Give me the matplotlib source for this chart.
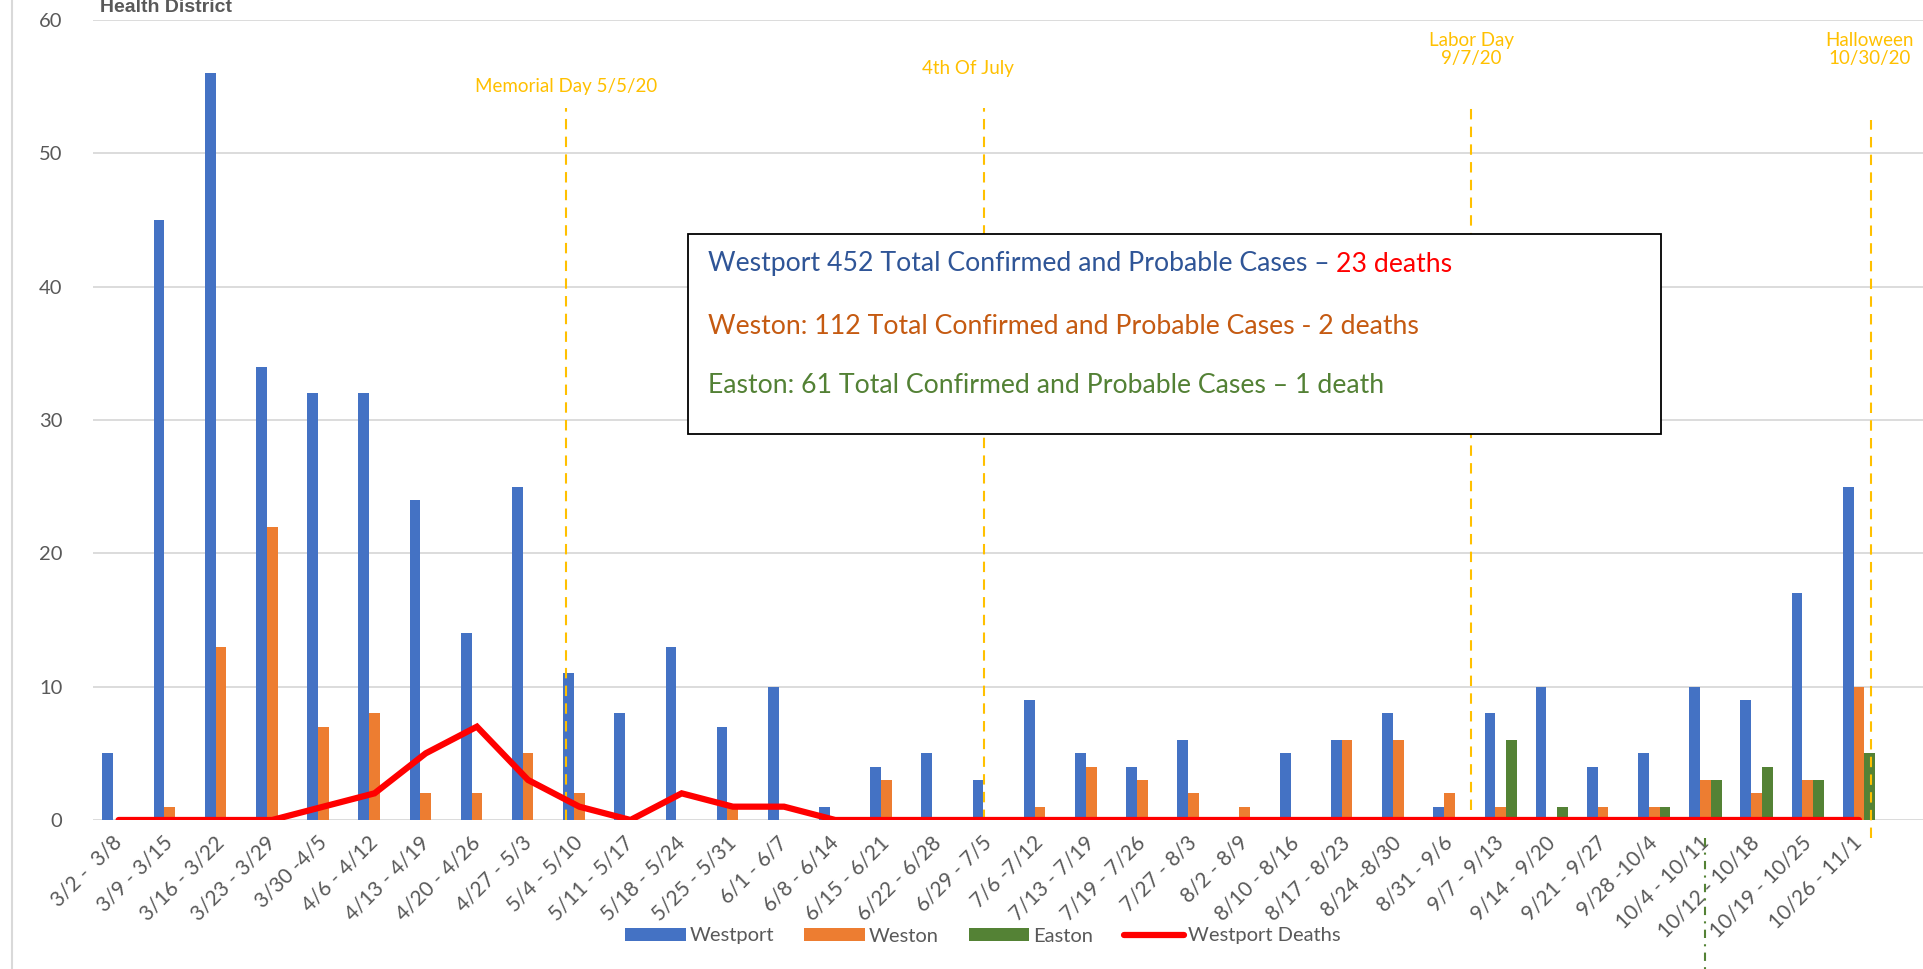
import numpy as np
import matplotlib.pyplot as plt
from matplotlib.transforms import blended_transform_factory
from matplotlib.lines import Line2D
from matplotlib.patches import Rectangle

weeks = ['3/2 -  3/8', '3/9 - 3/15', '3/16 - 3/22', '3/23 - 3/29', '3/30 -4/5',
         '4/6 - 4/12', '4/13 - 4/19', '4/20 - 4/26', '4/27 - 5/3', '5/4 - 5/10',
         '5/11 - 5/17', '5/18 - 5/24', '5/25 - 5/31', '6/1 - 6/7', '6/8 - 6/14',
         '6/15 - 6/21', '6/22 - 6/28', '6/29 - 7/5', '7/6 -7/12', '7/13 - 7/19',
         '7/19 - 7/26', '7/27 - 8/3', '8/2 - 8/9', '8/10 - 8/16', '8/17 - 8/23',
         '8/24 -8/30', '8/31 - 9/6', '9/7 - 9/13', '9/14 - 9/20', '9/21 - 9/27',
         '9/28 -10/4', '10/4 - 10/11', '10/12 - 10/18', '10/19 - 10/25', '10/26 - 11/1']
westport = [5, 45, 56, 34, 32, 32, 24, 14, 25, 11, 8, 13, 7, 10, 1, 4, 5, 3, 9, 5,
            4, 6, 0, 5, 6, 8, 1, 8, 10, 4, 5, 10, 9, 17, 25]
weston = [0, 1, 13, 22, 7, 8, 2, 2, 5, 2, 0, 0, 1, 0, 0, 3, 0, 0, 1, 4,
          3, 2, 1, 0, 6, 6, 2, 1, 0, 1, 1, 3, 2, 3, 10]
easton = [0, 0, 0, 0, 0, 0, 0, 0, 0, 0, 0, 0, 0, 0, 0, 0, 0, 0, 0, 0,
          0, 0, 0, 0, 0, 0, 0, 6, 1, 0, 1, 3, 4, 3, 5]
westport_deaths = [0, 0, 0, 0, 1, 2, 5, 7, 3, 1, 0, 2, 1, 1, 0, 0, 0, 0, 0, 0,
                   0, 0, 0, 0, 0, 0, 0, 0, 0, 0, 0, 0, 0, 0, 0]

# holidays: (label, x position in category units)
holidays = ['Memorial Day 5/5/20', '4th Of July', 'Labor Day\n9/7/20', 'Halloween\n10/30/20']
holiday_x = [8.75, 16.91, 26.43, 34.24]
holiday_text_x = [8.75, 16.6, 26.43, 34.2]

plt.rcParams['font.family'] = ['Lato', 'DejaVu Sans']
gray = '#595959'
yellow = '#FFC000'

fig = plt.figure(figsize=(19.24, 9.69), dpi=100)
ax = fig.add_axes([93 / 1924, 1 - 820 / 969, 1 - 93 / 1924, 800 / 969])

x = np.arange(len(weeks))
w = 0.21
b1 = ax.bar(x - w, westport, w, color='#4472C4', label='Westport', zorder=2)
b2 = ax.bar(x, weston, w, color='#ED7D31', label='Weston', zorder=2)
b3 = ax.bar(x + w, easton, w, color='#548235', label='Easton', zorder=2)
l1, = ax.plot(x, westport_deaths, color='#FF0000', lw=4.5, solid_capstyle='round',
              solid_joinstyle='miter', label='Westport Deaths', zorder=4)

ax.set_ylim(0, 60)
ax.set_xlim(-0.5, 35.27)
ax.set_yticks(range(0, 61, 10))
ax.yaxis.grid(True, color='#D9D9D9', lw=1.3)
ax.set_axisbelow(True)
for s in ['top', 'right', 'left', 'bottom']:
    ax.spines[s].set_visible(False)
ax.tick_params(axis='both', length=0, colors=gray, labelsize=14.5)
ax.tick_params(axis='y', pad=22)
ax.set_xticks(x)
ax.set_xticklabels(weeks, rotation=45, ha='right', va='center', rotation_mode='anchor')
ax.tick_params(axis='x', pad=14, labelsize=15)

# holiday markers
tops = [53.4, 53.4, 53.4, 52.5]
bottoms = [0, 0, 0.75, -1.35]
text_y = [55.0, 56.4, 57.8, 57.8]
for lab, hx, tx, t, b, ty in zip(holidays, holiday_x, holiday_text_x, tops, bottoms, text_y):
    ax.plot([hx, hx], [b, t], color=yellow, lw=1.5, ls=(0, (5, 3.5)), zorder=3, clip_on=False)
    ax.text(tx, ty, lab, color=yellow, fontsize=13.5, ha='center', va='center', linespacing=1.1)

# green dash-dot marker under the axis
tr = blended_transform_factory(ax.transData, fig.transFigure)
ax.plot([31, 31], [1 - 838 / 969, 0], color='#548235', lw=1.5, ls=(0, (4, 3, 1, 3)),
        transform=tr, clip_on=False, zorder=5)

# summary box
fig.patches.append(Rectangle((688 / 1924, 1 - 434 / 969), 973 / 1924, 200 / 969,
                             transform=fig.transFigure, fill=True, facecolor='white',
                             edgecolor='black', lw=1.3, zorder=6))
t1 = fig.text(708 / 1924, 1 - 264 / 969, 'Westport 452 Total Confirmed and Probable Cases \u2013 ',
              color='#2F5597', fontsize=19.2, va='center', zorder=7)
fig.canvas.draw()
bb = t1.get_window_extent()
fig.text(bb.x1 / 1924, 1 - 264 / 969, '23 deaths', color='#FF0000', fontsize=19.2, va='center', zorder=7)
fig.text(708 / 1924, 1 - 326 / 969, 'Weston: 112 Total Confirmed and Probable Cases - 2 deaths',
         color='#C55A11', fontsize=19.2, va='center', zorder=7)
fig.text(708 / 1924, 1 - 385 / 969, 'Easton: 61 Total Confirmed and Probable Cases \u2013 1 death',
         color='#538135', fontsize=19.2, va='center', zorder=7)

# clipped chart title and chart border
fig.text(100 / 1924, 1 - 12 / 969, 'Health District', color=gray, fontsize=14,
         fontweight='bold', family='Liberation Sans', va='baseline')
fig.lines.append(Line2D([12 / 1924, 12 / 1924], [0, 1], color='#D9D9D9', lw=1.5,
                        transform=fig.transFigure))

leg = fig.legend([b1, b2, b3, l1], ['Westport', 'Weston', 'Easton', 'Westport Deaths'],
                 loc='center', bbox_to_anchor=(983 / 1924, 1 - 936 / 969), ncol=4,
                 frameon=False, fontsize=14.5, handlelength=3.0, handleheight=0.6,
                 columnspacing=1.5, handletextpad=0.2)
for t in leg.get_texts():
    t.set_color(gray)

fig.savefig('out.png', dpi=100)
